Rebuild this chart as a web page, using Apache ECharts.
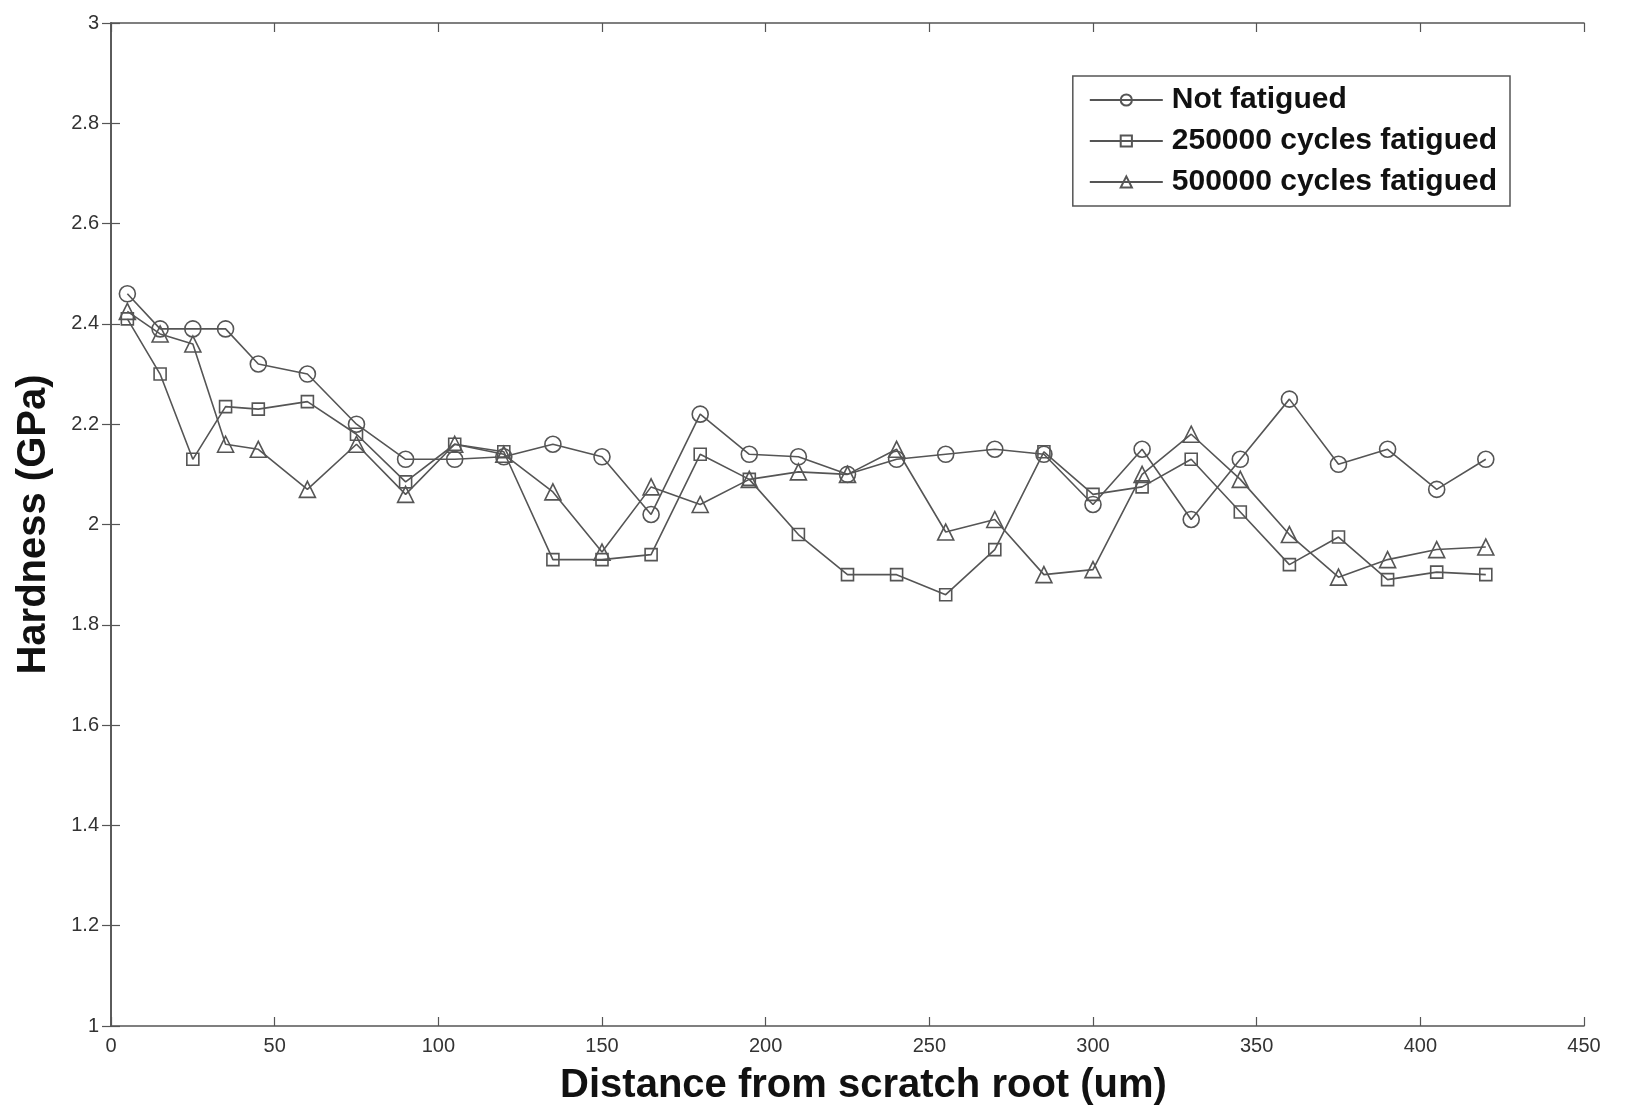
<!DOCTYPE html>
<html>
<head>
<meta charset="utf-8">
<script src="https://cdn.jsdelivr.net/npm/echarts@6/dist/echarts.min.js"></script>
<style>
  html, body { margin: 0; padding: 0; background: #fff; }
  #chart { width: 1627px; height: 1111px; }
</style>
</head>
<body>
<div id="chart"></div>
<script>
// distance from scratch root (um)
var distance = [5, 15, 25, 35, 45, 60, 75, 90, 105, 120, 135, 150, 165, 180, 195,
                210, 225, 240, 255, 270, 285, 300, 315, 330, 345, 360, 375, 390, 405, 420];

// hardness values (GPa)
var notFatigued = [2.46, 2.39, 2.39, 2.39, 2.32, 2.30, 2.20, 2.13, 2.13, 2.135, 2.16, 2.135, 2.02, 2.22, 2.14,
                   2.135, 2.10, 2.13, 2.14, 2.15, 2.14, 2.04, 2.15, 2.01, 2.13, 2.25, 2.12, 2.15, 2.07, 2.13];
var cycles250k = [2.41, 2.30, 2.13, 2.235, 2.23, 2.245, 2.18, 2.085, 2.16, 2.145, 1.93, 1.93, 1.94, 2.14, 2.09,
                  1.98, 1.90, 1.90, 1.86, 1.95, 2.145, 2.06, 2.075, 2.13, 2.025, 1.92, 1.975, 1.89, 1.905, 1.90];
var cycles500k = [2.425, 2.38, 2.36, 2.16, 2.15, 2.07, 2.16, 2.06, 2.16, 2.14, 2.065, 1.945, 2.075, 2.04, 2.09,
                  2.105, 2.10, 2.15, 1.985, 2.01, 1.90, 1.91, 2.10, 2.18, 2.09, 1.98, 1.895, 1.93, 1.95, 1.955];

var seriesNames = ['Not fatigued', '250000 cycles fatigued', '500000 cycles fatigued'];

function pairs(vals) {
    var out = [];
    for (var i = 0; i < distance.length; i++) {
        out.push([distance[i], vals[i]]);
    }
    return out;
}

var ink = '#555';
var font = 'Liberation Sans, Arial';

function makeSeries(name, vals, symbol, size) {
    return {
        name: name,
        type: 'line',
        data: pairs(vals),
        symbol: symbol,
        symbolSize: size,
        showAllSymbol: true,
        animation: false,
        lineStyle: { color: ink, width: 1.6 },
        itemStyle: { color: 'rgba(255,255,255,0)', borderColor: ink, borderWidth: 1.6 },
        emphasis: { disabled: true }
    };
}

var myChart = echarts.init(document.getElementById('chart'));

var axisLine = { show: true, lineStyle: { color: ink, width: 1.6 } };
var tickStyle = { show: true, inside: true, length: 9, lineStyle: { color: ink, width: 1.2 } };

var option = {
    backgroundColor: '#fff',
    grid: { left: 111, right: 43, top: 23, bottom: 82 },
    legend: {
        right: 117,
        top: 76,
        orient: 'vertical',
        itemWidth: 73,
        itemHeight: 14,
        itemGap: 11,
        padding: [9, 13, 9, 16],
        borderColor: ink,
        borderWidth: 1.5,
        backgroundColor: '#fff',
        textStyle: { fontFamily: font, fontWeight: 'bold', fontSize: 30, color: '#111', padding: [0, 0, 0, 4] },
        data: seriesNames
    },
    xAxis: [{
        type: 'value',
        min: 0, max: 450, interval: 50,
        name: 'Distance from scratch root (um)',
        nameLocation: 'middle',
        nameGap: 40,
        nameTextStyle: { fontFamily: font, fontWeight: 'bold', fontSize: 40, color: '#111', padding: [0, 0, 0, 32] },
        axisLine: axisLine,
        axisTick: tickStyle,
        axisLabel: { fontFamily: font, fontSize: 20, color: '#333', margin: 10 },
        splitLine: { show: false }
    }, {
        type: 'value',
        position: 'top',
        min: 0, max: 450, interval: 50,
        axisLine: axisLine,
        axisTick: tickStyle,
        axisLabel: { show: false },
        splitLine: { show: false }
    }],
    yAxis: [{
        type: 'value',
        min: 1, max: 3, interval: 0.2,
        name: 'Hardness (GPa)',
        nameLocation: 'middle',
        nameGap: 57,
        nameTextStyle: { fontFamily: font, fontWeight: 'bold', fontSize: 40, color: '#111' },
        axisLine: axisLine,
        axisTick: tickStyle,
        axisLabel: { fontFamily: font, fontSize: 20, color: '#333', margin: 12 },
        splitLine: { show: false }
    }, {
        type: 'value',
        position: 'right',
        min: 1, max: 3, interval: 0.2,
        axisLine: axisLine,
        axisTick: tickStyle,
        axisLabel: { show: false },
        splitLine: { show: false }
    }],
    series: [
        makeSeries(seriesNames[0], notFatigued, 'circle', 16),
        makeSeries(seriesNames[1], cycles250k, 'rect', 12),
        makeSeries(seriesNames[2], cycles500k, 'triangle', 16)
    ]
};

myChart.setOption(option);
</script>
</body>
</html>
